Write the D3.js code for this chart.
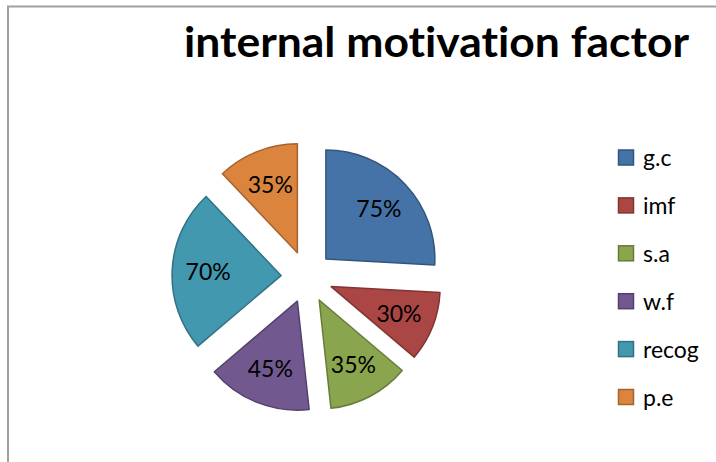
<!DOCTYPE html>
<html>
<head>
<meta charset="utf-8">
<script src="https://cdn.jsdelivr.net/npm/d3@7"></script>
<style>
  html, body { margin: 0; padding: 0; background: #fff; }
  svg { display: block; }
  text { font-variant-ligatures: none; font-feature-settings: "liga" 0, "clig" 0; }
</style>
</head>
<body>
<svg id="chart" width="716" height="462"></svg>
<script>
// Chart data
const title = "internal motivation factor";
const categories = ["g.c", "imf", "s.a", "w.f", "recog", "p.e"];
const values = [75, 30, 35, 45, 70, 35];
const fills = ["#4572A7", "#AA4643", "#89A54E", "#71588F", "#4198AF", "#DB843D"];

const W = 716, H = 462;
const svg = d3.select("#chart");
const FONT = "Lato, 'Open Sans', sans-serif";

// Outer frame (only top and left edges fall inside the view)
svg.append("rect")
  .attr("x", 8).attr("y", 6.5)
  .attr("width", W + 20).attr("height", H + 20)
  .attr("fill", "none")
  .attr("stroke", "#a0a0a0")
  .attr("stroke-width", 2);

// Title
svg.append("text")
  .attr("x", 184).attr("y", 57)
  .attr("font-family", FONT)
  .attr("font-weight", 700)
  .attr("font-size", 42)
  .attr("fill", "#000")
  .attr("textLength", 505)
  .attr("lengthAdjust", "spacingAndGlyphs")
  .text(title);

// Pie
const cx = 307, cy = 277, radius = 109, explode = 26;
const pie = d3.pie().sort(null).value(d => d.v);
const arcs = pie(categories.map((c, i) => ({ c, v: values[i], i })));
const arc = d3.arc().innerRadius(0).outerRadius(radius);
const labelArc = d3.arc().innerRadius(radius * 0.67).outerRadius(radius * 0.67);

const g = svg.append("g").attr("transform", `translate(${cx},${cy})`);
const slice = g.selectAll("g.slice").data(arcs).enter().append("g")
  .attr("class", "slice")
  .attr("transform", d => {
    const a = (d.startAngle + d.endAngle) / 2;
    return `translate(${explode * Math.sin(a)},${-explode * Math.cos(a)})`;
  });

slice.append("path")
  .attr("d", arc)
  .attr("fill", d => fills[d.data.i])
  .attr("stroke", d => d3.color(fills[d.data.i]).darker(0.8))
  .attr("stroke-width", 1.5)
  .attr("stroke-linejoin", "round");

slice.append("text")
  .attr("transform", d => `translate(${labelArc.centroid(d)})`)
  .attr("text-anchor", "middle")
  .attr("dy", "0.36em")
  .attr("font-family", FONT)
  .attr("font-size", 23)
  .attr("fill", "#000")
  .text(d => d.data.v + "%");

// Legend
const legendY = d3.scalePoint().domain(categories).range([157.5, 397]);
const item = svg.append("g").selectAll("g").data(categories).enter().append("g")
  .attr("transform", d => `translate(618,${legendY(d)})`);
item.append("rect")
  .attr("x", 0.5).attr("y", -7.5)
  .attr("width", 15).attr("height", 15)
  .attr("fill", (d, i) => fills[i])
  .attr("stroke", (d, i) => d3.color(fills[i]).darker(0.8))
  .attr("stroke-width", 1.5);
item.append("text")
  .attr("x", 25).attr("y", 8.5)
  .attr("font-family", FONT)
  .attr("font-size", 23)
  .attr("fill", "#000")
  .text(d => d);
</script>
</body>
</html>
